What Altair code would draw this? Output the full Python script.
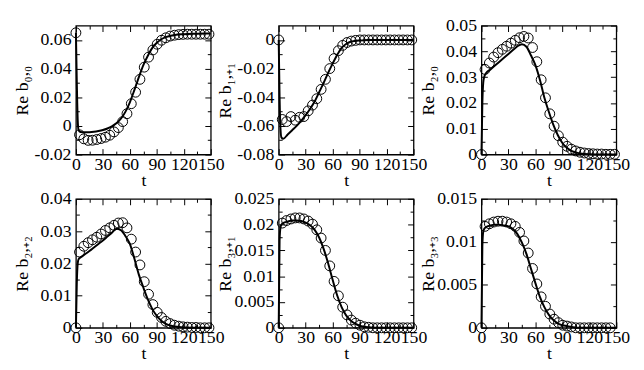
import altair as alt
import pandas as pd

FONT = "Liberation Serif"

# sample times of the open circles (simulation) and of the solid curve (model)
t_marks = [0, 4, 8.8, 13.6, 18.4, 23.2, 28, 32.8, 37.6, 42.4, 47.2, 52, 56.8, 61.6,
           66.4, 71.2, 76, 80.8, 85.6, 90.4, 95.2, 100, 104.8, 109.6, 114.4, 119.2,
           124, 128.8, 133.6, 138.4, 143.2, 148]
t_curve = [0, 1, 2, 3, 5, 10, 15, 20, 25, 30, 35, 40, 45, 50, 55, 60, 65, 70, 75, 80,
           85, 90, 95, 100, 110, 120, 135, 150]

b00_marks = [0.065, -0.0062, -0.009, -0.0101, -0.01, -0.0095, -0.0088, -0.0079, -0.0065,
             -0.0042, -0.0012, 0.003, 0.0085, 0.0155, 0.0235, 0.0325, 0.041, 0.048, 0.053,
             0.057, 0.0598, 0.0615, 0.0627, 0.0633, 0.0637, 0.0639, 0.064, 0.064, 0.064,
             0.064, 0.064, 0.064]
b00_curve = [0.065, 0.03, 0.004, -0.003, -0.0042, -0.0045, -0.0044, -0.0041, -0.0036,
             -0.0029, -0.0018, -0.0003, 0.0018, 0.005, 0.0098, 0.0165, 0.025, 0.034, 0.0425,
             0.049, 0.0545, 0.058, 0.0605, 0.062, 0.0635, 0.064, 0.0643, 0.0645]

b11_marks = [0, -0.0555, -0.057, -0.0535, -0.056, -0.054, -0.0535, -0.0495, -0.0455, -0.041,
             -0.0345, -0.0275, -0.02, -0.013, -0.0075, -0.0038, -0.0018, -0.0008, -0.0003,
             0, 0, 0, 0, 0, 0, 0, 0, 0, 0, 0, 0, 0]
b11_curve = [0, -0.04, -0.062, -0.068, -0.069, -0.066, -0.063, -0.06, -0.0565, -0.0525,
             -0.048, -0.043, -0.0365, -0.03, -0.023, -0.0165, -0.0105, -0.0055, -0.0028,
             -0.0013, -0.0007, -0.0004, -0.0002, -0.0001, 0, 0, 0, 0]

b20_marks = [0, 0.033, 0.0355, 0.0378, 0.0395, 0.0408, 0.042, 0.0432, 0.0443, 0.0453,
             0.0458, 0.0452, 0.0415, 0.036, 0.029, 0.022, 0.0158, 0.011, 0.0073, 0.0048,
             0.0032, 0.0021, 0.0014, 0.0009, 0.0006, 0.0004, 0.0003, 0.0002, 0.0002, 0.0001,
             0.0001, 0.0001]
b20_curve = [0, 0.02, 0.028, 0.03, 0.0315, 0.033, 0.0345, 0.036, 0.0375, 0.039, 0.0405,
             0.042, 0.0428, 0.0418, 0.0385, 0.0347, 0.029, 0.022, 0.0165, 0.0115, 0.0075,
             0.0045, 0.0026, 0.0014, 0.0004, 0.0001, 0, 0]

b22_marks = [0, 0.0235, 0.0253, 0.0264, 0.0273, 0.0281, 0.0291, 0.0302, 0.031, 0.0318,
             0.0325, 0.0326, 0.031, 0.0275, 0.0235, 0.0195, 0.0143, 0.0104, 0.0072, 0.0048,
             0.0032, 0.002, 0.0013, 0.0008, 0.0005, 0.0003, 0.0002, 0.0001, 0.0001, 0, 0, 0]
b22_curve = [0, 0.014, 0.02, 0.0213, 0.0218, 0.0228, 0.0238, 0.0249, 0.026, 0.0271, 0.0283,
             0.0295, 0.0307, 0.0303, 0.0285, 0.026, 0.0215, 0.0165, 0.0125, 0.0088, 0.0058,
             0.0037, 0.0022, 0.0012, 0.0004, 0.0001, 0, 0]

b31_marks = [0, 0.0203, 0.0208, 0.0211, 0.0213, 0.0213, 0.0211, 0.0207, 0.0201, 0.019,
             0.0174, 0.015, 0.012, 0.009, 0.0062, 0.004, 0.0025, 0.0015, 0.0009, 0.0005,
             0.0002, 0.0001, 0, 0, 0, 0, 0, 0, 0, 0, 0, 0]
b31_curve = [0, 0.017, 0.0195, 0.02, 0.0203, 0.0206, 0.0208, 0.0208, 0.0207, 0.0204,
             0.0199, 0.019, 0.0175, 0.0153, 0.0125, 0.0093, 0.0063, 0.004, 0.0024, 0.0014,
             0.0008, 0.0004, 0.0002, 0.0001, 0, 0, 0, 0]

b33_marks = [0, 0.0118, 0.0121, 0.0123, 0.0124, 0.0124, 0.0123, 0.0121, 0.0118, 0.0111,
             0.0101, 0.0087, 0.0069, 0.0051, 0.0036, 0.0025, 0.0016, 0.001, 0.0006, 0.0003,
             0.0002, 0.0001, 0, 0, 0, 0, 0, 0, 0, 0, 0]
b33_curve = [0, 0.0095, 0.0112, 0.0115, 0.0117, 0.0119, 0.012, 0.012, 0.0119, 0.0118,
             0.0115, 0.0109, 0.0099, 0.0086, 0.0069, 0.0052, 0.0036, 0.0024, 0.0015, 0.0009,
             0.0005, 0.0003, 0.0002, 0.0001, 0, 0, 0, 0]

titles = ["Re b₀,₀", "Re b₁,₊₁", "Re b₂,₀", "Re b₂,₊₂", "Re b₃,₊₁", "Re b₃,₊₃"]
y_domains = [[-0.02, 0.07], [-0.08, 0.01], [0, 0.05], [0, 0.04], [0, 0.025], [0, 0.015]]
y_major = [[-0.02, 0, 0.02, 0.04, 0.06], [-0.08, -0.06, -0.04, -0.02, 0],
           [0, 0.01, 0.02, 0.03, 0.04, 0.05], [0, 0.01, 0.02, 0.03, 0.04],
           [0, 0.005, 0.01, 0.015, 0.02, 0.025], [0, 0.005, 0.01, 0.015]]
y_minor = [[-0.01, 0.01, 0.03, 0.05], [-0.07, -0.05, -0.03, -0.01],
           [0.005, 0.015, 0.025, 0.035, 0.045], [0.005, 0.015, 0.025, 0.035],
           [0.0025, 0.0075, 0.0125, 0.0175, 0.0225], [0.0025, 0.0075, 0.0125]]
x_major = [0, 30, 60, 90, 120, 150]
x_minor = [15, 45, 75, 105, 135]

W, H = 137, 131
MAJ, MIN = 6, 3.5
FS = 18


def tick_axis(orient, values, size):
    return alt.Axis(orient=orient, values=values, labels=False, domain=False,
                    ticks=True, tickSize=size, offset=-size, title=None,
                    tickColor="black", tickWidth=1, grid=False)


def panel(title, curve_vals, mark_vals, dom, major, minor):
    n = len(mark_vals)
    curve = pd.DataFrame({"t": t_curve, "v": curve_vals})
    marks = pd.DataFrame({"t": t_marks[:n], "v": mark_vals})
    xsc = alt.Scale(domain=[0, 150], nice=False, zero=False)
    ysc = alt.Scale(domain=dom, nice=False, zero=False)

    label_x = alt.Axis(orient="bottom", values=x_major, ticks=False, domain=False,
                       labelFlush=False, labelOverlap=False, labelPadding=1, title="t",
                       titlePadding=-2, labelExpr="'' + datum.value", grid=False)
    label_y = alt.Axis(orient="left", values=major, ticks=False, domain=False,
                       labelOverlap=False, labelPadding=5, labelExpr="'' + datum.value",
                       title=title, titlePadding=2, minExtent=43, maxExtent=43,
                       grid=False)

    line = alt.Chart(curve).mark_line(color="black", strokeWidth=2,
                                      interpolate="monotone").encode(
        x=alt.X("t:Q", scale=xsc, axis=label_x),
        y=alt.Y("v:Q", scale=ysc, axis=label_y))
    pts = alt.Chart(marks).mark_point(shape="circle", filled=False, color="black",
                                      size=100, strokeWidth=1, opacity=1).encode(
        x=alt.X("t:Q", scale=xsc, axis=tick_axis("bottom", x_major, MAJ)),
        y=alt.Y("v:Q", scale=ysc, axis=tick_axis("left", major, MAJ)))

    def ghost(xa, ya):
        return alt.Chart(curve).mark_line(opacity=0).encode(
            x=alt.X("t:Q", scale=xsc, axis=xa),
            y=alt.Y("v:Q", scale=ysc, axis=ya))

    layers = [
        line, pts,
        ghost(tick_axis("bottom", x_minor, MIN), tick_axis("left", minor, MIN)),
        ghost(tick_axis("top", x_major, MAJ), tick_axis("right", major, MAJ)),
        ghost(tick_axis("top", x_minor, MIN), tick_axis("right", minor, MIN)),
    ]
    return alt.layer(*layers).resolve_axis(x="independent", y="independent").properties(
        width=W, height=H)


curves = [b00_curve, b11_curve, b20_curve, b22_curve, b31_curve, b33_curve]
markset = [b00_marks, b11_marks, b20_marks, b22_marks, b31_marks, b33_marks]
panels = [panel(titles[i], curves[i], markset[i], y_domains[i], y_major[i], y_minor[i])
          for i in range(6)]

chart = alt.concat(*panels, columns=3, spacing={"row": 45, "column": 69},
                   bounds="flush").configure_view(
    stroke="black", strokeWidth=1.3
).configure_axis(
    labelFont=FONT, titleFont=FONT, labelFontSize=FS, titleFontSize=FS,
    labelColor="black", titleColor="black", titleFontWeight="normal", grid=False
).properties(background="white")

chart.save("out.html", embed_options={"renderer": "svg", "actions": False})
